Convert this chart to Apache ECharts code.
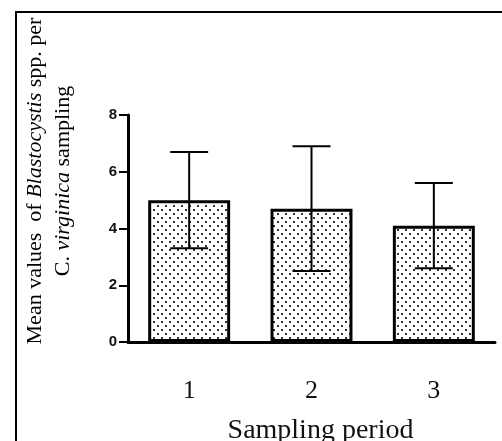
<!DOCTYPE html>
<html>
<head>
<meta charset="utf-8">
<script src="https://cdn.jsdelivr.net/npm/echarts@6/dist/echarts.min.js"></script>
<style>
    html, body { margin: 0; padding: 0; background: #fff; }
    #chart { width: 502px; height: 441px; }
</style>
</head>
<body>
<div id="chart"></div>
<script>
var periods = ['1', '2', '3'];
var means = [5.0, 4.7, 4.1];
var errLow = [3.3, 2.5, 2.6];
var errHigh = [6.7, 6.9, 5.6];
var yTicks = [0, 2, 4, 6, 8];

// dotted fill like the stipple in the original
var tile = document.createElement('canvas');
tile.width = 8;
tile.height = 8;
var ctx = tile.getContext('2d');
ctx.fillStyle = '#fff';
ctx.fillRect(0, 0, 8, 8);
ctx.fillStyle = '#333';
ctx.fillRect(1, 1, 2, 2);
ctx.fillRect(5, 5, 2, 2);

var chart = echarts.init(document.getElementById('chart'));

var option = {
    animation: false,
    grid: {
        left: 128,
        right: 7,
        top: 115,
        bottom: 99,
        outerBoundsMode: 'none',
        containLabel: false
    },
    xAxis: {
        type: 'category',
        data: periods,
        name: 'Sampling period',
        nameLocation: 'middle',
        nameGap: 75,
        nameTextStyle: {
            fontFamily: 'Liberation Serif',
            fontSize: 28,
            color: '#111',
            padding: [0, 0, 0, 18]
        },
        axisLine: { lineStyle: { color: '#000', width: 3 } },
        axisTick: { alignWithLabel: true, length: 8, lineStyle: { color: '#000', width: 3 } },
        axisLabel: {
            margin: 36,
            fontFamily: 'Liberation Serif',
            fontSize: 26,
            color: '#111'
        }
    },
    yAxis: {
        type: 'value',
        min: 0,
        max: 8,
        interval: 2,
        axisLine: { show: true, lineStyle: { color: '#000', width: 3 } },
        axisTick: { show: true, length: 9, lineStyle: { color: '#000', width: 2 } },
        splitLine: { show: false },
        axisLabel: {
            margin: 11,
            fontFamily: 'Liberation Sans',
            fontWeight: 'bold',
            fontSize: 15,
            color: '#111',
            formatter: function (v) {
                return yTicks.indexOf(v) >= 0 ? String(v) : '';
            }
        }
    },
    series: [
        {
            type: 'bar',
            data: means,
            barWidth: '67%',
            itemStyle: {
                color: { image: tile, repeat: 'repeat' },
                borderColor: '#000',
                borderWidth: 3
            },
            z: 2
        },
        {
            type: 'custom',
            z: 3,
            data: periods.map(function (p, i) { return [i, errLow[i], errHigh[i]]; }),
            renderItem: function (params, api) {
                var lo = api.coord([api.value(0), api.value(1)]);
                var hi = api.coord([api.value(0), api.value(2)]);
                var half = 19;
                var st = { stroke: '#000', lineWidth: 2 };
                return {
                    type: 'group',
                    children: [
                        { type: 'line', shape: { x1: hi[0], y1: hi[1], x2: lo[0], y2: lo[1] }, style: st },
                        { type: 'line', shape: { x1: hi[0] - half, y1: hi[1], x2: hi[0] + half, y2: hi[1] }, style: st },
                        { type: 'line', shape: { x1: lo[0] - half, y1: lo[1], x2: lo[0] + half, y2: lo[1] }, style: st }
                    ]
                };
            }
        }
    ],
    graphic: [
        {
            type: 'polyline',
            shape: { points: [[16, 445], [16, 12], [505, 12]] },
            style: { stroke: '#000', lineWidth: 2, fill: null }
        },
        {
            type: 'text',
            x: 49,
            y: 181,
            rotation: Math.PI / 2,
            style: {
                text: '{n|Mean values  of }{i|Blastocystis}{n| spp. per}\n{n|C. }{i|virginica}{n| sampling}',
                align: 'center',
                verticalAlign: 'middle',
                lineHeight: 28,
                rich: {
                    n: { fontFamily: 'Liberation Serif', fontSize: 22, color: '#222', lineHeight: 28 },
                    i: { fontFamily: 'Liberation Serif', fontSize: 22, fontStyle: 'italic', color: '#222', lineHeight: 28 }
                }
            }
        }
    ]
};

chart.setOption(option);
</script>
</body>
</html>
